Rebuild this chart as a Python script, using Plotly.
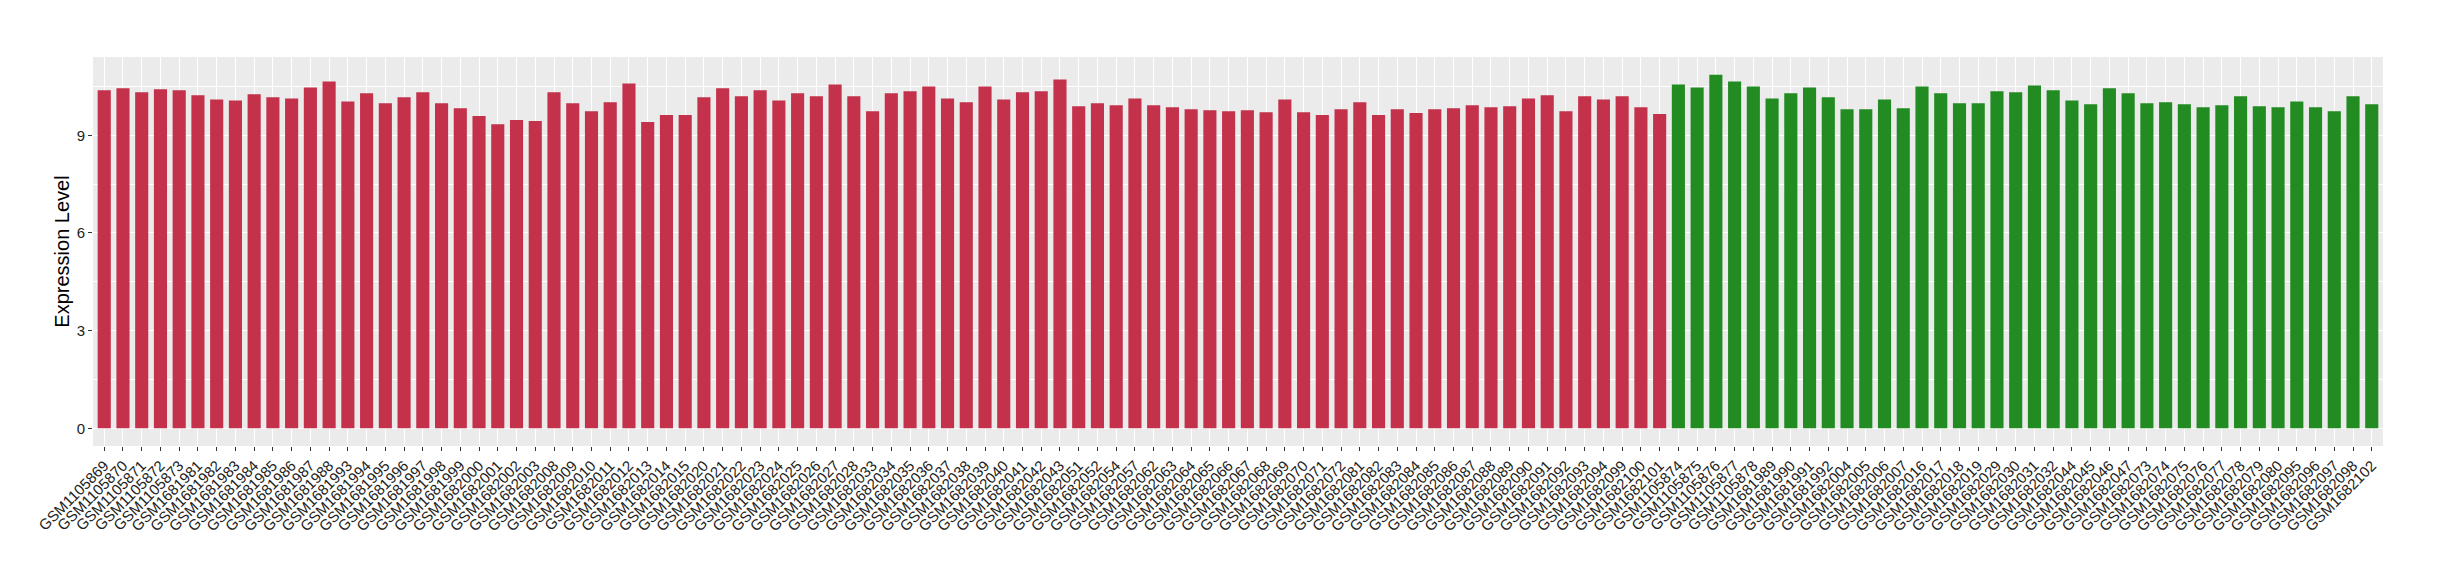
import plotly.graph_objects as go

red_samples = [
    "GSM1105869", "GSM1105870", "GSM1105871", "GSM1105872", "GSM1105873",
    "GSM1681981", "GSM1681982", "GSM1681983", "GSM1681984", "GSM1681985",
    "GSM1681986", "GSM1681987", "GSM1681988", "GSM1681993", "GSM1681994",
    "GSM1681995", "GSM1681996", "GSM1681997", "GSM1681998", "GSM1681999",
    "GSM1682000", "GSM1682001", "GSM1682002", "GSM1682003", "GSM1682008",
    "GSM1682009", "GSM1682010", "GSM1682011", "GSM1682012", "GSM1682013",
    "GSM1682014", "GSM1682015", "GSM1682020", "GSM1682021", "GSM1682022",
    "GSM1682023", "GSM1682024", "GSM1682025", "GSM1682026", "GSM1682027",
    "GSM1682028", "GSM1682033", "GSM1682034", "GSM1682035", "GSM1682036",
    "GSM1682037", "GSM1682038", "GSM1682039", "GSM1682040", "GSM1682041",
    "GSM1682042", "GSM1682043", "GSM1682051", "GSM1682052", "GSM1682054",
    "GSM1682057", "GSM1682062", "GSM1682063", "GSM1682064", "GSM1682065",
    "GSM1682066", "GSM1682067", "GSM1682068", "GSM1682069", "GSM1682070",
    "GSM1682071", "GSM1682072", "GSM1682081", "GSM1682082", "GSM1682083",
    "GSM1682084", "GSM1682085", "GSM1682086", "GSM1682087", "GSM1682088",
    "GSM1682089", "GSM1682090", "GSM1682091", "GSM1682092", "GSM1682093",
    "GSM1682094", "GSM1682099", "GSM1682100", "GSM1682101",
]
red_values = [
    10.38, 10.44, 10.32, 10.41, 10.38, 10.23, 10.10, 10.07, 10.26, 10.17,
    10.13, 10.47, 10.65, 10.04, 10.29, 9.98, 10.17, 10.32, 9.98, 9.83,
    9.59, 9.34, 9.47, 9.44, 10.32, 9.98, 9.74, 10.01, 10.59, 9.41,
    9.62, 9.62, 10.17, 10.44, 10.20, 10.38, 10.07, 10.29, 10.20, 10.56,
    10.20, 9.74, 10.29, 10.35, 10.50, 10.13, 10.01, 10.50, 10.10, 10.32,
    10.35, 10.71, 9.89, 9.98, 9.92, 10.13, 9.92, 9.86, 9.80, 9.77,
    9.74, 9.77, 9.71, 10.10, 9.71, 9.62, 9.80, 10.01, 9.62, 9.80,
    9.68, 9.80, 9.83, 9.92, 9.86, 9.89, 10.13, 10.23, 9.74, 10.20,
    10.10, 10.20, 9.86, 9.65,
]

green_samples = [
    "GSM1105874", "GSM1105875", "GSM1105876", "GSM1105877", "GSM1105878",
    "GSM1681989", "GSM1681990", "GSM1681991", "GSM1681992", "GSM1682004",
    "GSM1682005", "GSM1682006", "GSM1682007", "GSM1682016", "GSM1682017",
    "GSM1682018", "GSM1682019", "GSM1682029", "GSM1682030", "GSM1682031",
    "GSM1682032", "GSM1682044", "GSM1682045", "GSM1682046", "GSM1682047",
    "GSM1682073", "GSM1682074", "GSM1682075", "GSM1682076", "GSM1682077",
    "GSM1682078", "GSM1682079", "GSM1682080", "GSM1682095", "GSM1682096",
    "GSM1682097", "GSM1682098", "GSM1682102",
]
green_values = [
    10.56, 10.47, 10.86, 10.65, 10.50, 10.13, 10.29, 10.47, 10.17, 9.80,
    9.80, 10.10, 9.83, 10.50, 10.29, 9.98, 9.98, 10.35, 10.32, 10.53,
    10.38, 10.07, 9.95, 10.44, 10.29, 9.98, 10.01, 9.95, 9.86, 9.92,
    10.20, 9.89, 9.86, 10.04, 9.86, 9.74, 10.20, 9.95,
]

y_ticks = [0, 3, 6, 9]
y_title = "Expression Level"

RED = "#C3314A"
GREEN = "#228B22"

samples = red_samples + green_samples
values = red_values + green_values
colors = [RED] * len(red_samples) + [GREEN] * len(green_samples)

fig = go.Figure()
fig.add_trace(go.Bar(
    x=samples, y=values,
    marker=dict(color=colors, line=dict(width=0)),
    showlegend=False,
    hoverinfo="x+y",
))

vmax = max(values)
n = len(samples)
fig.update_layout(
    width=2440, height=580,
    paper_bgcolor="white",
    plot_bgcolor="#EBEBEB",
    margin=dict(l=93, r=57, t=57, b=134),
    bargap=0.3,
    font=dict(family="Liberation Sans, Arial, sans-serif", color="#333333"),
    xaxis=dict(
        type="category",
        categoryorder="array", categoryarray=samples,
        range=[-0.6, n - 0.4],
        tickangle=-45,
        tickfont=dict(size=15, color="#222222"),
        showgrid=True, gridcolor="white", gridwidth=1.1,
        ticks="outside", ticklen=4, tickcolor="#333333", tickwidth=1,
        showline=False, zeroline=False,
        automargin=False,
    ),
    yaxis=dict(
        range=[-0.05 * vmax, 1.05 * vmax],
        tickvals=y_ticks,
        tickfont=dict(size=15, color="#222222"),
        showgrid=True, gridcolor="white", gridwidth=1.1,
        minor=dict(dtick=1.5, tick0=0, showgrid=True, gridcolor="white", gridwidth=0.55, ticks=""),
        ticks="outside", ticklen=4, tickcolor="#333333", tickwidth=1,
        zeroline=False, showline=False,
        automargin=False,
        title=dict(text=y_title, font=dict(size=20, color="black"), standoff=1),
    ),
)

fig.write_html(
    "out.html",
    config={"displayModeBar": False},
    post_script="document.body.style.margin='0px';",
)
